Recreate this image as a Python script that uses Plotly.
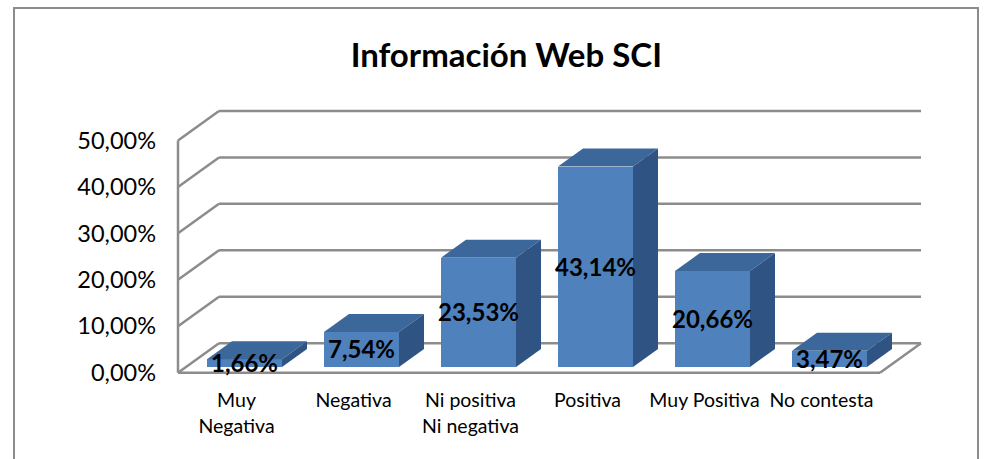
import plotly.graph_objects as go

# ---- data ----
categories = ["Muy<br>Negativa", "Negativa", "Ni positiva<br>Ni negativa",
              "Positiva", "Muy Positiva", "No contesta"]
values = [1.66, 7.54, 23.53, 43.14, 20.66, 3.47]
value_labels = ["1,66%", "7,54%", "23,53%", "43,14%", "20,66%", "3,47%"]
y_ticks = [0, 10, 20, 30, 40, 50]
y_tick_labels = ["0,00%", "10,00%", "20,00%", "30,00%", "40,00%", "50,00%"]

# ---- 3D oblique geometry (data units) ----
W, H = 985, 459
X0_PX, CAT_PX = 178, 117.0          # front-left of plot, px per category
Y0_PX, PCT_PX = 372.7, 4.645        # front floor, px per 1 %
DX, DY = 41 / CAT_PX, 29.5 / PCT_PX  # full depth offset
F0, F1 = 0.195, 0.805                # bar depth span (fraction of full depth)
BAR_W = 0.641

FRONT = "#4F81BD"
TOP = "#3C679B"
SIDE = "#2F5483"
GRID = "#8C8C8C"

n = len(categories)
x_range = [-X0_PX / CAT_PX, (W - X0_PX) / CAT_PX]
y_range = [-(H - Y0_PX) / PCT_PX, Y0_PX / PCT_PX]

fig = go.Figure()

# front faces
fx = [i + 0.5 + F0 * DX for i in range(n)]
fb = F0 * DY
fig.add_trace(go.Bar(x=fx, y=values, base=[fb] * n, width=BAR_W,
                     marker=dict(color=FRONT, line=dict(width=0)),
                     hoverinfo="skip", showlegend=False))

bdx, bdy = (F1 - F0) * DX, (F1 - F0) * DY
for i, v in enumerate(values):
    xl, xr = fx[i] - BAR_W / 2, fx[i] + BAR_W / 2
    yt = fb + v
    # top face
    fig.add_trace(go.Scatter(
        x=[xl, xr, xr + bdx, xl + bdx, xl],
        y=[yt, yt, yt + bdy, yt + bdy, yt],
        fill="toself", fillcolor=TOP, mode="lines", line=dict(width=0, color=TOP),
        hoverinfo="skip", showlegend=False))
    # side face
    fig.add_trace(go.Scatter(
        x=[xr, xr + bdx, xr + bdx, xr, xr],
        y=[fb, fb + bdy, yt + bdy, yt, fb],
        fill="toself", fillcolor=SIDE, mode="lines", line=dict(width=0, color=SIDE),
        hoverinfo="skip", showlegend=False))

# value labels centred on the front faces
fig.add_trace(go.Scatter(
    x=fx, y=[fb + v / 2 - 0.6 for v in values], mode="text", text=value_labels,
    textposition="middle center",
    textfont=dict(family="Lato", size=24, color="#000000", weight="bold"),
    hoverinfo="skip", showlegend=False, cliponaxis=False))

# walls and grid
shapes = []
ln = dict(color=GRID, width=2.5)
for t in y_ticks:
    shapes.append(dict(type="line", xref="x", yref="y", x0=DX, y0=t + DY,
                       x1=n + DX, y1=t + DY, line=ln, layer="below"))
    shapes.append(dict(type="line", xref="x", yref="y", x0=0, y0=t,
                       x1=DX, y1=t + DY, line=ln, layer="below"))
shapes.append(dict(type="line", xref="x", yref="y", x0=0, y0=0, x1=0,
                   y1=y_ticks[-1], line=ln, layer="below"))
shapes.append(dict(type="line", xref="x", yref="y", x0=0, y0=0, x1=n,
                   y1=0, line=ln, layer="below"))
shapes.append(dict(type="line", xref="x", yref="y", x0=n, y0=0, x1=n + DX,
                   y1=DY, line=ln, layer="below"))
# chart border
shapes.append(dict(type="rect", xref="paper", yref="paper",
                   x0=14 / W, y0=-0.05, x1=978 / W, y1=1 - 8 / H,
                   line=dict(color=GRID, width=2), layer="below"))

fig.update_layout(
    width=W, height=H,
    margin=dict(l=0, r=0, t=0, b=0),
    paper_bgcolor="white", plot_bgcolor="white",
    shapes=shapes,
    title=dict(text="<b>Información Web SCI</b>", x=0.514, xanchor="center",
               y=1 - 55 / H, yanchor="middle",
               font=dict(family="Lato", size=33, color="#000000")),
    xaxis=dict(range=x_range, domain=[0, 1], anchor="free",
               position=(H - Y0_PX) / H,
               tickvals=[i + 0.5 for i in range(n)], ticktext=categories,
               showgrid=False, zeroline=False, showline=False, ticks="",
               ticklabelstandoff=14,
               tickfont=dict(family="Lato", size=19.5, color="#000000")),
    yaxis=dict(range=y_range, domain=[0, 1], anchor="free",
               position=X0_PX / W,
               tickvals=y_ticks, ticktext=y_tick_labels,
               showgrid=False, zeroline=False, showline=False, ticks="",
               ticklabelstandoff=22,
               tickfont=dict(family="Lato", size=23.5, color="#000000")),
    bargap=0,
)

fig.write_html("out.html",
               config={"displayModeBar": False},
               post_script="document.body.style.margin='0';"
                           "document.body.style.overflow='hidden';")
